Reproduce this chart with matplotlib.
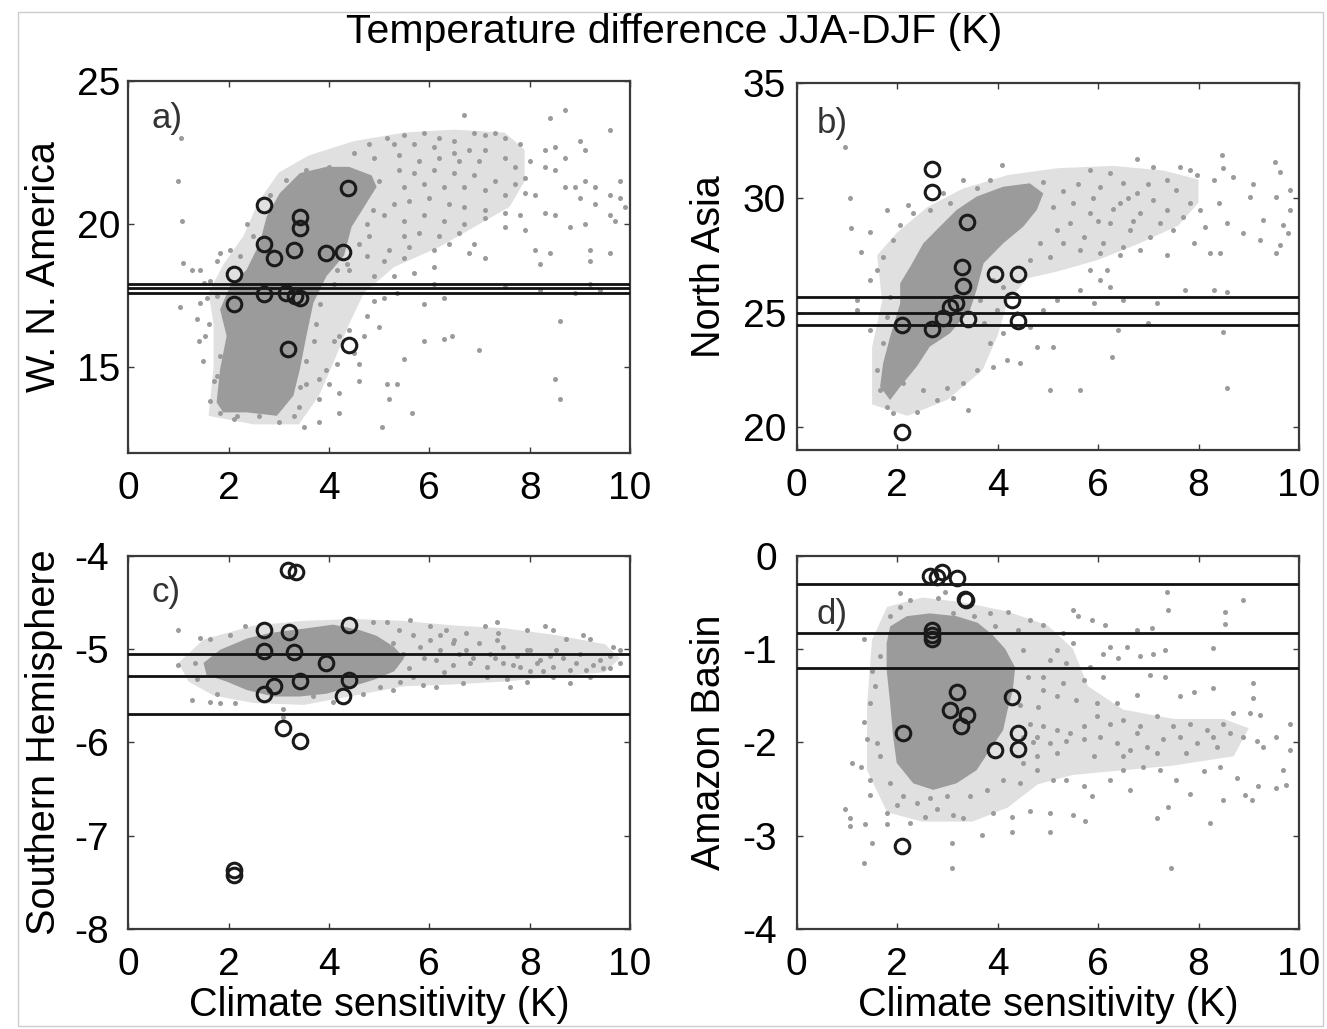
import matplotlib.pyplot as plt
from matplotlib.patches import Rectangle

plt.rcParams['font.family'] = ['Liberation Sans', 'DejaVu Sans']
plt.rcParams['axes.unicode_minus'] = False

GRAY = '#9b9b9b'

# ---- a) W. N. America ----
a_cloud = [
    (6.7,23.8),(8.4,23.7),(8.7,24.0),(9.6,23.3),(9.0,22.9),(8.5,22.7),(8.3,22.6),(8.7,22.3),(9.1,22.6),(8.0,22.2),
    (8.3,22.0),(8.5,21.9),(8.1,21.0),(8.7,21.3),(8.9,21.3),(9.1,21.5),(9.3,21.3),(9.8,21.5),(9.6,21.0),(9.8,20.9),
    (9.3,20.7),(9.0,20.9),(8.3,20.4),(8.5,20.3),(8.8,19.9),(9.1,20.0),(9.6,20.3),(9.9,20.6),(9.7,20.1),(8.1,19.1),
    (8.4,19.0),(9.2,19.1),(9.6,19.0),(8.2,18.6),(9.2,18.7),
    (5.15,23.0),(5.5,23.1),(5.9,23.2),(6.2,23.0),(6.5,22.9),(6.9,23.2),(7.1,23.1),(7.3,23.2),(7.5,23.0),(7.8,22.8),
    (7.1,22.6),(6.8,22.6),(6.5,22.5),(6.1,22.7),(5.7,22.8),(5.3,22.8),(4.8,22.8),(4.5,22.5),(4.9,22.3),(5.4,22.4),
    (5.8,22.2),(6.2,22.3),(6.6,22.2),(7.0,22.2),(7.5,22.3),(7.7,22.0),(7.9,21.6),(7.7,21.4),(7.3,21.5),(6.9,21.7),
    (6.5,21.8),(6.1,21.9),(5.7,21.8),(5.4,21.9),(5.0,21.5),(5.5,21.3),(5.9,21.4),(6.3,21.3),(6.7,21.3),(7.1,21.2),
    (7.5,21.0),(7.9,21.1),(7.8,20.3),(7.5,20.4),(7.1,20.5),(6.7,20.6),(6.4,20.7),(6.0,20.9),(5.6,20.8),(5.3,20.7),
    (5.1,20.3),(5.5,20.1),(5.9,20.3),(6.3,20.1),(6.7,20.0),(7.1,20.2),(7.5,19.9),(7.9,19.8),(6.6,19.7),(6.2,19.6),
    (5.8,19.7),(5.5,19.6),(6.4,19.3),(6.1,19.1),(5.6,19.2),(5.2,19.1),(6.8,19.0),(7.1,18.8),(6.9,19.3),(4.8,19.6),
    (4.75,18.9),(5.1,18.7),(5.5,18.8),(6.1,18.5),(5.7,18.3),(5.3,18.2),(4.9,18.2),(4.4,18.4),(4.15,18.4),
    (6.3,17.4),(5.9,17.2),(5.35,17.6),(5.1,17.4),(4.9,17.3),(4.75,16.8),(5.0,16.4),(4.7,16.1),(4.4,16.3),(4.2,16.1),
    (4.1,15.9),(4.5,15.5),(4.6,15.1),(4.15,15.1),(3.95,14.9),(3.8,14.6),(3.55,14.4),(4.0,14.4),(4.2,14.1),(3.8,13.9),
    (3.4,13.6),(3.3,13.3),(3.5,12.9),(3.8,13.1),(4.2,13.4),(4.6,14.5),(5.15,14.4),(5.35,14.4),(5.5,15.3),(5.2,13.9),
    (5.05,12.9),(5.65,13.4),(5.9,15.9),(6.3,16.0),(6.45,16.1),(7.0,15.6),(8.5,14.6),(8.6,13.9),(8.6,16.6),(9.2,17.9),
    (9.4,17.7),(8.9,17.6),(8.2,17.7),(7.5,17.8),(6.1,17.9),
    (1.06,23.0),(1.0,21.5),(1.08,20.1),(1.1,18.65),(1.43,18.4),(1.83,19.0),(2.03,19.1),(1.03,17.1),(1.26,18.4),(1.5,17.95),
    (1.36,16.7),(1.43,17.25),(1.4,15.9),(1.49,15.2),(1.7,14.5),(1.63,13.8),(1.83,13.4),(2.1,13.2),(1.76,18.7),(1.56,17.4),
    (1.6,16.5),(1.53,16.1),
    (2.36,20.0),(2.49,19.6),(2.23,18.9),(2.82,21.0),(3.15,21.55),(3.55,21.9),(4.0,22.0),(4.4,21.7),(4.7,21.3),(4.88,20.5),
    (4.75,20.0),(4.6,19.3),(4.35,18.6),(4.1,17.9),(3.82,17.2),(3.75,16.5),(3.7,15.9),(3.55,15.2),(3.42,14.3),(3.0,13.1),
    (2.6,13.3),(2.16,13.3),(1.83,13.9),(1.76,14.7),(1.83,15.4),(2.03,16.3),(1.9,16.8),(1.76,17.5),(1.63,18.0),
]
a_core_x = [1.76, 1.83, 1.96, 1.83, 2.03, 2.36, 2.62, 2.76, 3.02, 3.42, 3.95, 4.4, 4.85, 4.95, 4.7, 4.45,
            4.3, 3.95, 3.69, 3.55, 3.42, 3.29, 2.96, 2.36, 1.89]
a_core_y = [13.77, 14.93, 16.09, 17.02, 17.83, 18.41, 19.34, 20.27, 21.08, 21.78, 22.0, 22.0, 21.7, 21.3, 20.6, 19.9,
            18.9, 18.18, 17.25, 16.09, 14.93, 14.0, 13.3, 13.42, 13.42]
a_halo_x = [1.6, 1.7, 1.7, 1.6, 1.9, 2.3, 2.6, 3.0, 3.6, 4.5, 5.5, 6.5, 7.5, 7.9, 7.9, 7.6, 7.0, 6.2, 5.3, 4.7,
            4.4, 4.1, 3.8, 3.4, 2.5]
a_halo_y = [13.3, 15.0, 16.5, 17.6, 18.6, 19.6, 20.8, 21.8, 22.4, 22.9, 23.2, 23.3, 23.2, 22.6, 21.5, 20.6, 20.0,
            19.2, 18.5, 17.6, 16.5, 15.2, 14.0, 13.0, 13.0]
a_circ_x = [4.38, 2.70, 3.42, 3.42, 2.70, 2.90, 3.30, 3.95, 4.28, 2.11, 2.11, 2.70, 3.15, 3.32, 3.42, 3.19, 4.40]
a_circ_y = [21.26, 20.68, 20.24, 19.87, 19.29, 18.82, 19.09, 19.0, 19.02, 18.24, 17.19, 17.54, 17.6, 17.48, 17.43,
            15.63, 15.77]
a_lines = [17.9, 17.75, 17.6]

# ---- b) North Asia ----
b_cloud = [
    (8.46,31.87),(9.52,31.58),(9.62,31.15),(9.82,30.35),(9.55,30.06),(8.69,30.93),(8.49,31.3),(8.3,30.8),(9.09,30.6),(9.02,30.06),
    (9.29,29.04),(9.69,28.82),(9.82,29.48),(9.79,28.46),(9.55,27.59),(9.62,27.95),(9.22,28.17),(8.89,28.46),(8.56,28.9),(8.4,29.77),
    (8.23,27.59),(8.43,27.59),(8.13,28.75),(7.9,28.02),(7.83,31.22),(7.63,31.36),(7.96,31.0),(6.77,31.68),(7.1,31.36),(7.37,30.78),
    (7.56,30.35),(7.83,29.77),(8.03,29.48),(7.7,29.19),(7.37,29.48),(7.1,29.91),(6.77,30.2),(6.5,30.64),(6.24,31.07),(5.84,31.22),
    (6.04,30.49),(6.44,29.77),(6.83,29.33),(7.23,28.9),(7.5,28.6),(7.03,28.31),(6.64,28.6),(6.24,28.9),(5.84,29.33),(5.51,29.77),
    (5.44,28.9),(5.71,28.31),(6.1,28.02),(6.5,27.88),(6.83,27.73),(7.37,27.51),(6.44,27.51),(6.04,27.59),(5.64,27.73),(5.31,28.02),
    (5.04,27.44),(4.64,27.3),(4.84,28.02),(5.18,28.6),(5.84,26.86),(6.04,26.42),(6.24,26.13),(6.17,26.86),(5.91,25.41),(5.64,25.99),
    (5.18,25.55),(4.91,25.11),(4.64,24.39),(4.78,23.52),(5.11,23.52),(5.04,21.63),(5.64,21.63),(6.27,23.08),(6.4,24.24),(7.0,24.53),
    (8.49,24.17),(8.56,21.7),(7.73,25.99),(8.3,25.99),(8.56,25.92),(7.17,25.41),(6.5,25.55),(4.08,31.44),(3.85,30.78),
    (5.3,30.3),(5.6,30.6),(5.9,30.0),(6.3,29.5),(6.7,29.0),(7.0,30.6),(5.1,29.6),(4.9,30.7),(6.0,29.0),(6.6,30.0),
    (0.96,32.21),(1.06,29.98),(1.08,28.68),(1.46,28.53),(1.46,26.42),(1.79,29.48),(2.06,28.82),(2.22,29.69),(1.29,27.66),(1.59,26.86),
    (1.2,25.11),(1.46,24.24),(1.72,23.66),(1.59,22.5),(1.66,21.63),(1.79,20.9),(1.92,20.61),(2.39,20.68),(2.79,21.19),(3.12,21.26),
    (3.42,20.75),(2.52,21.63),(2.99,21.7),(3.32,21.92),(3.58,22.5),(3.91,22.65),(4.18,22.94),(4.45,22.79),(3.85,23.66),(4.11,24.1),
    (3.72,24.53),(3.98,25.11),(4.38,24.97),(3.65,25.55),(4.11,26.13),(3.91,26.42),(2.65,29.48),(2.92,30.2),(3.32,30.78),(3.58,30.42),
    (3.05,29.77),(2.32,29.33),(1.92,28.17),(1.72,27.44),(1.86,25.7),(1.79,24.82),(2.06,22.79),(2.12,21.92),(1.2,25.55),
]
b_core_x = [1.66, 1.72, 1.86, 2.06, 2.06, 2.26, 2.52, 2.85, 3.18, 3.58, 4.11, 4.64, 4.91, 4.78, 4.51, 4.11,
            3.72, 3.58, 3.45, 3.05, 2.65, 2.39, 2.06, 1.86]
b_core_y = [21.77, 22.79, 23.95, 25.41, 26.28, 27.0, 28.02, 28.75, 29.47, 30.06, 30.49, 30.64, 30.2, 29.48, 28.75, 28.02,
            27.15, 25.99, 25.11, 24.1, 23.52, 22.65, 21.77, 21.19]
b_halo_x = [1.5, 1.5, 1.7, 1.6, 2.0, 2.6, 3.3, 4.2, 5.2, 6.3, 7.3, 8.0, 8.0, 7.6, 6.8, 6.0, 5.2, 4.6, 4.2, 4.0,
            3.7, 3.0, 2.2]
b_halo_y = [21.0, 23.5, 25.5, 27.5, 28.5, 29.6, 30.4, 31.0, 31.3, 31.4, 31.2, 30.8, 29.8, 28.8, 28.0, 27.3, 26.8,
            26.5, 25.5, 24.0, 22.5, 21.2, 20.5]
b_circ_x = [2.69, 2.69, 3.40, 3.30, 3.32, 3.95, 4.40, 4.28, 4.40, 2.09, 2.69, 2.91, 3.05, 3.18, 3.42, 2.09]
b_circ_y = [31.26, 30.27, 28.96, 27.0, 26.16, 26.68, 26.68, 25.55, 24.65, 24.46, 24.27, 24.75, 25.23, 25.41, 24.71,
            19.81]
b_lines = [25.69, 24.97, 24.46]

# ---- c) Southern Hemisphere ----
c_cloud = [
    (0.99,-4.8),(1.43,-4.88),(1.63,-4.89),(2.03,-4.85),(2.33,-4.76),(0.99,-5.17),(1.33,-5.15),(1.26,-5.55),(1.63,-5.57),(1.83,-5.58),
    (2.13,-5.58),(1.36,-5.32),(1.76,-5.48),(3.09,-5.64),(3.09,-5.73),(3.69,-5.51),(4.08,-5.57),(4.68,-5.48),(4.88,-4.71),(5.15,-4.71),
    (5.61,-4.69),(6.01,-4.76),(6.34,-4.8),(6.74,-4.83),(7.11,-4.76),(7.34,-4.71),(7.37,-4.83),(7.94,-4.8),(8.3,-4.76),(8.47,-4.8),
    (8.73,-4.89),(9.06,-4.85),(9.2,-4.89),(9.66,-4.98),(9.8,-5.01),(9.6,-5.08),(9.26,-5.17),(8.93,-5.15),(8.53,-5.01),(8.2,-5.12),
    (8.0,-5.01),(7.74,-5.08),(7.47,-4.98),(7.2,-5.05),(7.0,-4.94),(6.74,-5.01),(6.47,-4.94),(6.21,-5.01),(6.01,-4.9),(5.81,-4.98),
    (5.68,-4.85),(6.14,-5.12),(6.47,-5.17),(6.81,-5.15),(7.14,-5.19),(7.47,-5.15),(7.8,-5.19),(8.14,-5.15),(8.47,-5.19),(8.8,-5.23),
    (9.13,-5.23),(9.46,-5.21),(9.8,-5.15),(8.47,-5.3),(8.8,-5.37),(9.2,-5.3),(7.94,-5.35),(7.6,-5.41),(7.54,-5.32),(7.14,-5.3),
    (6.68,-5.37),(6.14,-5.41),(5.88,-5.39),(5.68,-5.3),(5.41,-5.35),(5.28,-5.44),(5.01,-5.41),(4.82,-5.3),(7.94,-5.01),(7.34,-4.9),
    (6.21,-4.85),(5.48,-5.05),(5.28,-4.94),(6.87,-5.1),(7.67,-5.17),(8.67,-5.1),(9.4,-5.12),(9.6,-5.21),(8.27,-5.24),(8.0,-5.24),
    (9.0,-5.05),(8.4,-5.08),(5.6,-5.2),(5.9,-5.1),(6.3,-5.25),(6.6,-5.05),(7.3,-5.1),(5.2,-5.1),(5.4,-4.8),(6.5,-4.9),
]
c_core_x = [1.5, 1.83, 2.36, 2.82, 3.55, 4.08, 4.62, 4.95, 5.3, 5.5, 5.3, 4.9, 4.48, 3.95, 3.42, 2.89, 2.36, 1.96, 1.56]
c_core_y = [-5.15, -5.01, -4.89, -4.83, -4.78, -4.74, -4.8, -4.86, -4.98, -5.1, -5.24, -5.33, -5.4, -5.48, -5.51,
            -5.51, -5.44, -5.35, -5.28]
c_halo_x = [1.0, 1.5, 2.5, 3.5, 4.5, 5.5, 6.5, 7.5, 8.5, 9.5, 9.8, 9.5, 8.5, 7.5, 6.5, 5.5, 4.5, 3.5, 2.5, 1.7, 1.2]
c_halo_y = [-5.15, -4.9, -4.75, -4.7, -4.68, -4.7, -4.75, -4.78, -4.85, -4.95, -5.1, -5.25, -5.3, -5.35, -5.38,
            -5.4, -5.5, -5.6, -5.58, -5.5, -5.35]
c_circ_x = [3.19, 3.35, 2.70, 3.21, 4.39, 2.70, 3.30, 3.95, 3.42, 4.39, 2.90, 2.70, 4.28, 3.08, 3.42, 2.11, 2.11]
c_circ_y = [-4.16, -4.18, -4.80, -4.82, -4.74, -5.02, -5.03, -5.15, -5.34, -5.33, -5.40, -5.48, -5.50, -5.85, -5.99,
            -7.37, -7.42]
c_lines = [-5.05, -5.29, -5.70]

# ---- d) Amazon Basin ----
d_cloud = [
    (2.06,-0.4),(2.82,-0.46),(2.95,-0.39),(3.12,-0.62),(3.52,-0.65),(3.85,-0.62),(4.21,-0.6),(4.64,-0.69),(4.91,-0.74),(5.51,-0.58),
    (5.61,-0.65),(5.87,-0.69),(6.14,-0.74),(6.77,-0.8),(7.07,-0.78),(7.4,-0.58),(7.37,-0.39),(8.53,-0.6),(8.53,-0.73),(8.89,-0.48),
    (8.29,-0.99),(7.33,-1.01),(7.1,-1.05),(6.83,-1.08),(6.57,-0.98),(6.24,-0.98),(6.1,-1.05),(6.4,-1.1),(5.51,-0.94),(5.18,-1.01),
    (5.04,-1.12),(5.37,-1.15),(5.84,-1.19),(6.1,-1.3),(5.71,-1.33),(5.31,-1.37),(4.91,-1.44),(5.18,-1.51),(5.57,-1.55),(5.97,-1.58),
    (6.37,-1.58),(6.77,-1.49),(7.03,-1.28),(7.33,-1.3),(7.63,-1.51),(7.9,-1.46),(8.29,-1.42),(9.09,-1.37),(9.09,-1.53),(9.02,-1.69),
    (9.22,-1.71),(8.69,-1.69),(8.49,-1.8),(8.16,-1.87),(7.83,-1.8),(7.5,-1.83),(7.17,-1.72),(6.83,-1.83),(6.77,-1.9),(6.5,-1.76),
    (6.24,-1.8),(5.97,-1.72),(5.71,-1.83),(5.44,-1.9),(5.18,-1.87),(4.91,-1.83),(4.78,-1.94),(5.04,-2.01),(5.37,-1.99),(5.71,-1.97),
    (6.04,-1.94),(6.37,-2.01),(6.64,-2.08),(6.97,-2.05),(7.3,-1.97),(7.63,-1.94),(7.96,-2.01),(8.29,-1.94),(8.63,-1.9),(8.89,-1.94),
    (9.16,-1.99),(9.55,-1.94),(9.82,-1.8),(9.82,-2.08),(9.29,-2.05),(8.36,-2.05),(7.76,-2.12),(7.17,-2.12),(6.5,-2.15),(5.91,-2.15),
    (5.18,-2.12),(4.78,-2.15),(4.51,-2.22),(4.78,-2.3),(5.11,-2.4),(5.37,-2.4),(5.71,-2.47),(5.87,-2.58),(6.24,-2.4),(6.5,-2.3),
    (6.64,-2.51),(6.9,-2.26),(7.23,-2.3),(7.56,-2.4),(7.83,-2.55),(8.1,-2.31),(8.43,-2.26),(8.49,-2.62),(8.76,-2.38),(8.92,-2.56),
    (9.06,-2.62),(9.19,-2.47),(9.55,-2.49),(9.75,-2.46),(9.69,-2.3),(7.4,-2.69),(7.17,-2.81),(8.23,-2.87),(7.46,-3.35),(5.51,-2.78),
    (5.74,-2.84),(5.04,-2.96),(5.04,-2.76),(4.64,-2.74),(4.28,-2.8),(4.28,-2.96),(3.91,-2.76),(3.68,-2.99),(3.32,-2.81),(3.12,-2.78),
    (3.09,-3.08),(3.09,-3.35),(2.79,-2.72),(2.55,-2.8),(2.26,-2.87),(1.99,-2.67),(1.79,-2.76),(1.79,-2.88),(1.49,-3.08),(1.33,-3.29),
    (1.36,-2.88),(1.06,-2.81),(1.06,-2.9),(0.96,-2.71),(1.1,-2.22),(1.29,-2.26),(1.46,-2.4),(1.46,-2.56),(1.66,-2.15),(1.59,-2.01),
    (1.39,-1.96),(1.33,-1.78),(1.46,-1.58),(1.56,-1.4),(1.49,-1.24),(1.66,-1.08),(1.33,-0.89),(1.86,-2.44),(2.12,-2.58),(2.39,-2.65),
    (2.65,-2.6),(2.99,-2.58),(3.45,-2.58),(3.78,-2.51),(4.11,-2.4),(4.45,-2.44),(4.51,-1.94),(4.64,-1.8),(4.81,-1.62),(4.91,-1.3),
    (4.51,-1.01),(5.31,-0.83),(1.86,-0.65),(2.06,-0.55),(2.26,-0.48),(4.4,-0.8),(4.6,-1.3),(4.45,-1.6),(3.95,-0.75),(4.7,-2.0),
]
d_core_x = [1.86, 2.19, 2.65, 3.18, 3.6, 3.9, 4.15, 4.35, 4.3, 4.2, 4.11, 3.85, 3.58, 3.18, 2.72, 2.32, 1.99, 1.92,
            1.86, 1.79, 1.79]
d_core_y = [-0.76, -0.65, -0.62, -0.65, -0.72, -0.85, -1.0, -1.2, -1.45, -1.65, -1.87, -2.08, -2.3, -2.44, -2.51,
            -2.44, -2.22, -1.94, -1.58, -1.22, -0.94]
d_halo_x = [1.5, 1.8, 2.5, 3.3, 4.2, 5.0, 5.5, 5.8, 6.5, 7.5, 8.5, 9.0, 8.7, 7.5, 6.5, 5.5, 4.8, 4.2, 3.5, 2.5,
            1.8, 1.4, 1.4]
d_halo_y = [-0.9, -0.55, -0.45, -0.5, -0.6, -0.75, -1.0, -1.4, -1.65, -1.75, -1.75, -1.85, -2.15, -2.25, -2.3,
            -2.35, -2.45, -2.7, -2.85, -2.85, -2.75, -2.3, -1.6]
d_circ_x = [2.65, 2.89, 2.79, 3.19, 3.36, 3.38, 2.69, 2.69, 2.69, 3.19, 3.05, 3.40, 3.28, 4.28, 2.11, 4.40, 4.40,
            3.95, 2.09]
d_circ_y = [-0.22, -0.18, -0.23, -0.24, -0.47, -0.48, -0.80, -0.85, -0.89, -1.46, -1.65, -1.71, -1.83, -1.52, -1.90,
            -1.90, -2.07, -2.08, -3.11]
d_lines = [-0.31, -0.83, -1.20]

xticks = [0, 2, 4, 6, 8, 10]

W, H = 1327, 1029
fig = plt.figure(figsize=(W / 100, H / 100), dpi=100)

panels = [
    dict(rect=[128.3, 81, 501.7, 372], cloud=a_cloud, core=(a_core_x, a_core_y), halo=(a_halo_x, a_halo_y),
         circ=(a_circ_x, a_circ_y), lines=a_lines, ylim=(12, 25), yticks=[15, 20, 25], ylabel='W. N. America',
         letter='a)', lpos=(0.047, 0.873), ypad=6, lab_x=-0.169, xlabel=False),
    dict(rect=[796.7, 83.3, 502.3, 367], cloud=b_cloud, core=(b_core_x, b_core_y), halo=(b_halo_x, b_halo_y),
         circ=(b_circ_x, b_circ_y), lines=b_lines, ylim=(19, 35), yticks=[20, 25, 30, 35], ylabel='North Asia',
         letter='b)', lpos=(0.04, 0.865), ypad=7.5, lab_x=-0.1746, xlabel=False),
    dict(rect=[128.3, 555.5, 501.7, 373.5], cloud=c_cloud, core=(c_core_x, c_core_y), halo=(c_halo_x, c_halo_y),
         circ=(c_circ_x, c_circ_y), lines=c_lines, ylim=(-8, -4), yticks=[-8, -7, -6, -5, -4],
         ylabel='Southern Hemisphere', letter='c)', lpos=(0.047, 0.8755), ypad=14, lab_x=-0.169, xlabel=True),
    dict(rect=[796.7, 555.5, 502.3, 373.5], cloud=d_cloud, core=(d_core_x, d_core_y), halo=(d_halo_x, d_halo_y),
         circ=(d_circ_x, d_circ_y), lines=d_lines, ylim=(-4, 0), yticks=[-4, -3, -2, -1, 0],
         ylabel='Amazon Basin', letter='d)', lpos=(0.04, 0.817), ypad=14, lab_x=-0.1746, xlabel=True),
]

for p in panels:
    x0, top, w, h = p['rect']
    ax = fig.add_axes([x0 / W, 1 - (top + h) / H, w / W, h / H])
    cx, cy = zip(*p['cloud'])
    # dense part of the cloud: light halo plus solid core
    ax.fill(p['halo'][0], p['halo'][1], color=GRAY, alpha=0.3, lw=0, zorder=1)
    ax.fill(p['core'][0], p['core'][1], color=GRAY, lw=0, zorder=1)
    ax.plot(cx, cy, 'o', color=GRAY, ms=3.6, mew=0, zorder=2)
    for yl in p['lines']:
        ax.axhline(yl, color='#111111', lw=2, zorder=3)
    ax.plot(p['circ'][0], p['circ'][1], 'o', mfc='none', mec='#1a1a1a', ms=10.5, mew=2.2, zorder=4)
    ax.set_xlim(0, 10)
    ax.set_ylim(*p['ylim'])
    ax.set_xticks(xticks)
    ax.set_yticks(p['yticks'])
    ax.tick_params(direction='in', length=4, width=1, top=True, right=True, labelsize=28, color='#3a3a3a')
    ax.tick_params(axis='x', pad=13)
    ax.tick_params(axis='y', pad=p['ypad'])
    for s in ax.spines.values():
        s.set_linewidth(1.6)
        s.set_color('#3a3a3a')
    ax.set_ylabel(p['ylabel'], fontsize=28.5, va='center')
    ax.yaxis.set_label_coords(p['lab_x'], 0.5)
    if p['xlabel']:
        ax.set_xlabel('Climate sensitivity (K)', fontsize=28.5)
        ax.xaxis.set_label_coords(0.5, -0.1526)
    ax.text(p['lpos'][0], p['lpos'][1], p['letter'], transform=ax.transAxes, fontsize=25,
            va='baseline', ha='left', color='#333333')

fig.text(674 / W, 1 - 43 / H, 'Temperature difference JJA-DJF (K)', fontsize=29.5,
         ha='center', va='baseline')
fig.patches.append(Rectangle((18 / W, 0.003), (1323 - 18) / W, 1 - 12 / H - 0.003,
                             transform=fig.transFigure, fill=False, ec='#cccccc', lw=1))

fig.savefig('out.png', dpi=100)
